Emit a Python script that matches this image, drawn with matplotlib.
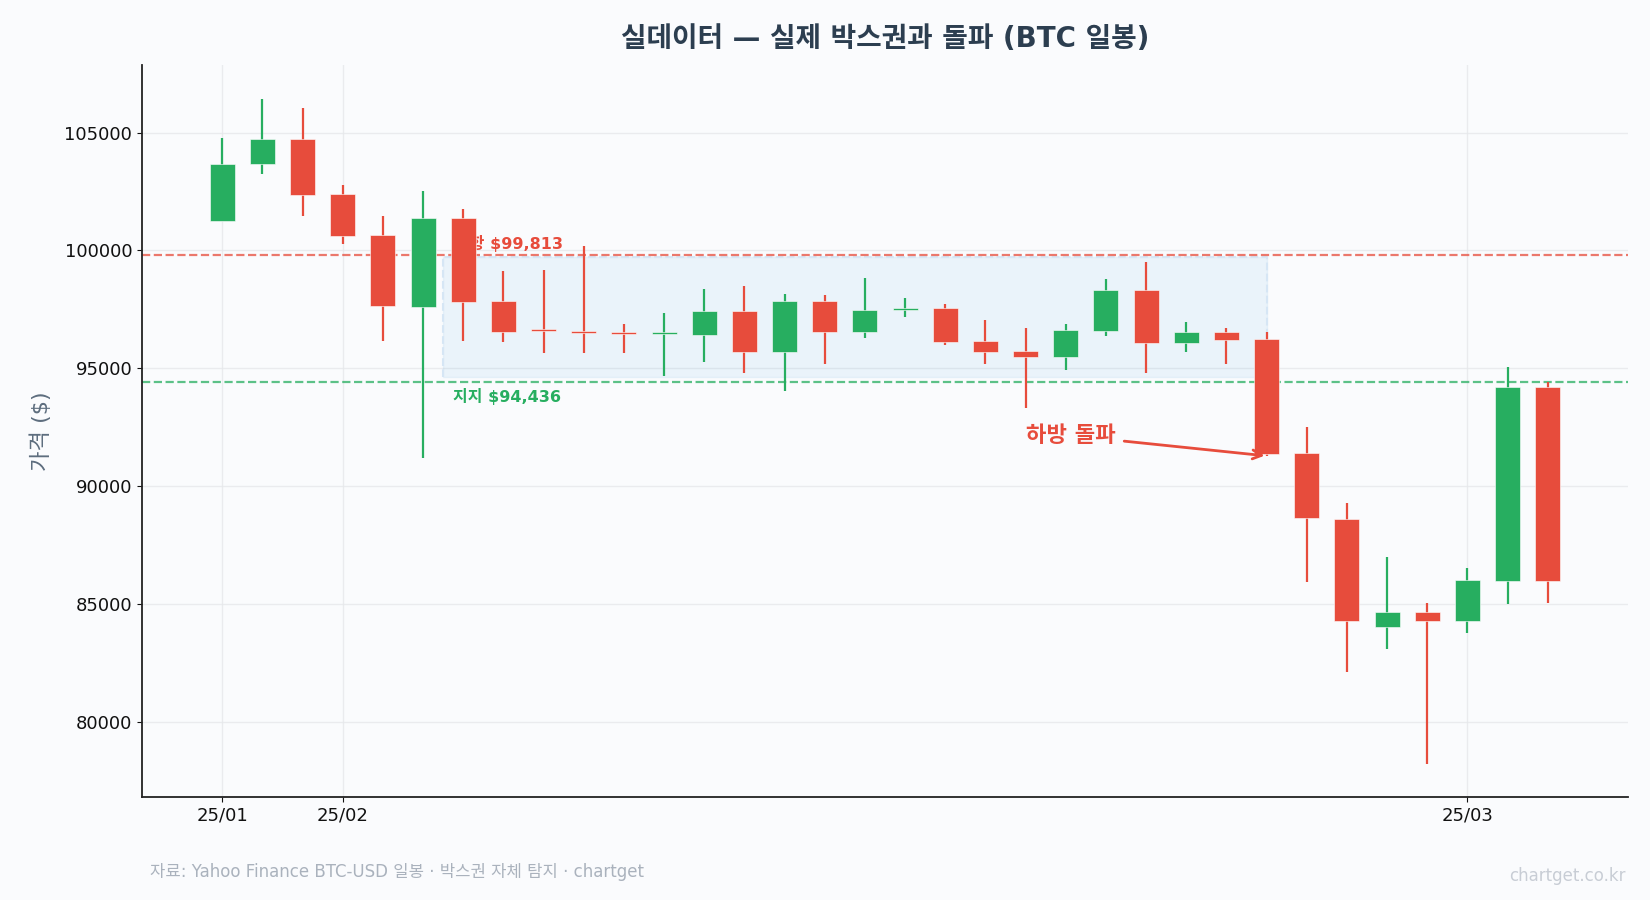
import numpy as np
import matplotlib.pyplot as plt

kr = ['DejaVu Sans', 'Noto Sans CJK KR']

# BTC daily candles
opens = [101268, 103685, 104731, 102399, 100660, 97621, 101381, 97861, 96610, 96540,
         96500, 96440, 96435, 97439, 95715, 97863, 96563, 97460, 97566, 96167,
         95743, 95502, 96605, 98330, 96096, 96534, 96251, 91403, 88618, 84024,
         84660, 84306, 86003, 94216]
highs = [104760, 106414, 106032, 102780, 101466, 102502, 101763, 99134, 99176, 100194,
         96874, 97340, 98358, 98499, 98146, 98117, 98824, 97990, 97736, 97057,
         96704, 96874, 98782, 99517, 96958, 96704, 96535, 92505, 89282, 86992,
         85042, 86526, 95050, 94442]
lows = [101230, 103261, 101480, 100264, 96179, 91189, 96179, 96137, 95670, 95642,
        95672, 94697, 95290, 94824, 94061, 95205, 96308, 97199, 95997, 95205,
        93339, 94937, 96379, 94824, 95715, 95205, 91300, 85960, 82115, 83091,
        78214, 83769, 84999, 85042]
closes = [103657, 104731, 102357, 100632, 97663, 101381, 97833, 96561, 96575, 96500,
          96460, 96460, 97439, 95715, 97863, 96563, 97481, 97560, 96138, 95715,
          95502, 96633, 98330, 96096, 96534, 96223, 91389, 88674, 84306, 84660,
          84306, 86031, 94216, 86003]

tick_pos = [0, 3, 31]
tick_labels = ['25/01', '25/02', '25/03']

resistance = 99813
support = 94436
box_start, box_end = 6, 26
box_low, box_high = 94650, 99730
breakout_idx = 26

green = '#27ae60'
red = '#e74c3c'
bg = '#fafbfd'

fig = plt.figure(figsize=(16.5, 9), dpi=100, facecolor=bg)
ax = fig.add_axes([0.086, 0.1144, 0.9007, 0.8136], facecolor=bg)

x = np.arange(len(opens))
o = np.array(opens); c = np.array(closes)
h = np.array(highs); l = np.array(lows)
cols = [green if cc >= oo else red for oo, cc in zip(o, c)]
body = np.maximum(np.abs(c - o), 90)
bottom = np.minimum(o, c)

ax.vlines(x, l, h, colors=cols, linewidth=1.6, zorder=3)
ax.bar(x, body, bottom=bottom, width=0.62, color=cols, edgecolor='white',
       linewidth=0.4, zorder=4)

# box
ax.fill_between([box_start - 0.5, box_end], box_low, box_high, color='#3498db',
                alpha=0.08, zorder=1)
ax.plot([box_start - 0.5, box_start - 0.5, box_end, box_end],
        [box_low, box_high, box_high, box_low], color='#d6e6f5', ls='--', lw=1.5, zorder=1)

ax.axhline(resistance, color=red, ls='--', lw=1.6, alpha=0.75, zorder=2)
ax.axhline(support, color=green, ls='--', lw=1.6, alpha=0.75, zorder=2)

ax.text(box_start - 0.2, resistance + 130, f'저항 ${resistance:,}', color=red,
        fontsize=11.5, fontweight='bold', family=kr, va='bottom', ha='left', zorder=2)
ax.text(box_start - 0.25, support - 250, f'지지 ${support:,}', color=green,
        fontsize=11.5, fontweight='bold', family=kr, va='top', ha='left', zorder=2)

ax.annotate('하방 돌파', xy=(breakout_idx - 0.05, lows[breakout_idx]),
            xytext=(22.25, 92150), color=red, fontsize=16, fontweight='bold',
            family=kr, ha='right', va='center', zorder=6,
            arrowprops=dict(arrowstyle='->', color=red, lw=2, shrinkA=4, shrinkB=0))

ax.set_xlim(-2, 35)
ax.set_ylim(76830, 107870)
ax.set_xticks(tick_pos)
ax.set_xticklabels(tick_labels)
ax.tick_params(labelsize=13, colors='#111111')
ax.grid(True, color='#e6e8eb', lw=1, alpha=0.8, zorder=0)
ax.set_axisbelow(True)
for s in ['top', 'right']:
    ax.spines[s].set_visible(False)
for s in ['left', 'bottom']:
    ax.spines[s].set_color('#222222')
    ax.spines[s].set_linewidth(1.3)

ax.set_ylabel('가격 ($)', fontsize=16, color='#5d6d7e', family=kr, labelpad=9)
ax.set_title('실데이터 — 실제 박스권과 돌파 (BTC 일봉)', fontsize=20, fontweight='bold',
             color='#2c3e50', family=kr, pad=13)

fig.text(0.091, 0.031, '자료: Yahoo Finance BTC-USD 일봉 · 박스권 자체 탐지 · chartget',
         fontsize=12, color='#aab2bd', family=kr, ha='left', va='center')
fig.text(0.985, 0.027, 'chartget.co.kr', fontsize=12, color='#c8cdd5', family=kr,
         ha='right', va='center')

plt.savefig('out.png', dpi=100, facecolor=bg)
